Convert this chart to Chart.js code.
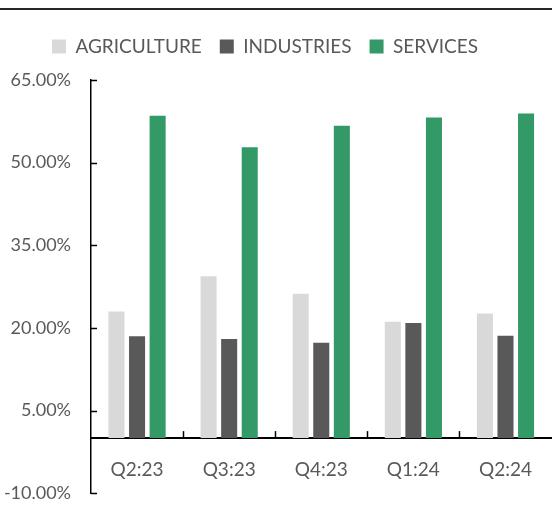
<!DOCTYPE html>
<html>
<head>
<meta charset="utf-8">
<script src="https://cdn.jsdelivr.net/npm/chart.js@4"></script>
<style>
  html, body { margin: 0; padding: 0; background: #fff; }
  #wrap { position: relative; width: 552px; height: 513px; overflow: hidden; }
  #topline { position: absolute; left: 0; top: 8px; width: 552px; height: 2px; background: #262626; }
</style>
</head>
<body>
<div id="wrap">
  <div id="topline"></div>
  <canvas id="sectorChart" width="552" height="524"></canvas>
</div>
<script>
const quarters = ["Q2:23", "Q3:23", "Q4:23", "Q1:24", "Q2:24"];
const agriculture = [23.0, 29.4, 26.2, 21.1, 22.6];
const industries = [18.5, 18.0, 17.3, 20.9, 18.6];
const services = [58.5, 52.8, 56.7, 58.2, 58.9];

const textGrey = "#595959";

// give the legend some extra room below it, and nudge it a little left
const legendSpace = {
  id: "legendSpace",
  beforeInit(chart) {
    const fit = chart.legend.fit;
    chart.legend.fit = function () {
      fit.bind(this)();
      this.height += 14;
    };
    const draw = chart.legend.draw;
    chart.legend.draw = function () {
      this.ctx.save();
      this.ctx.translate(-11, 0);
      draw.bind(this)();
      this.ctx.restore();
    };
  },
};

// Excel-style inside tick marks
const insideTicks = {
  id: "insideTicks",
  afterDraw(chart) {
    const ctx = chart.ctx;
    const x = chart.scales.x;
    const y = chart.scales.y;
    const left = chart.chartArea.left;
    ctx.save();
    ctx.strokeStyle = "#000";
    ctx.lineWidth = 1.5;
    y.ticks.forEach((t) => {
      const py = Math.round(y.getPixelForValue(t.value)) + 0.5;
      ctx.beginPath();
      ctx.moveTo(left, py);
      ctx.lineTo(left + 6, py);
      ctx.stroke();
    });
    const y0 = y.getPixelForValue(0);
    for (let i = 1; i < quarters.length; i++) {
      const px = Math.round((x.getPixelForValue(i - 1) + x.getPixelForValue(i)) / 2) + 0.5;
      ctx.beginPath();
      ctx.moveTo(px, y0);
      ctx.lineTo(px, y0 - 7);
      ctx.stroke();
    }
    ctx.restore();
  },
};

const barData = {
  labels: quarters,
  datasets: [
    { label: "AGRICULTURE", data: agriculture, backgroundColor: "#D9D9D9" },
    { label: "INDUSTRIES", data: industries, backgroundColor: "#595959" },
    { label: "SERVICES", data: services, backgroundColor: "#339966" },
  ],
};

const barConfig = {
  type: "bar",
  data: barData,
  options: {
    responsive: false,
    animation: false,
    categoryPercentage: 0.67,
    barPercentage: 0.78,
    layout: { padding: { top: 19, right: 0, bottom: 0, left: 0 } },
    plugins: {
      legend: {
        position: "top",
        labels: {
          color: textGrey,
          font: { family: "Lato", size: 19 },
          boxWidth: 14,
          boxHeight: 14,
          padding: 18,
        },
      },
      tooltip: { enabled: false },
    },
    scales: {
      x: {
        position: { y: 0 },
        grid: { display: false, drawTicks: false },
        border: { display: true, color: "#000", width: 2 },
        ticks: { color: textGrey, font: { family: "Lato", size: 19 }, padding: 20 },
      },
      y: {
        min: -10,
        max: 65,
        afterFit(scale) { scale.width = 91; },
        grid: { display: false, drawTicks: false },
        border: { display: true, color: "#000", width: 1.5 },
        ticks: {
          stepSize: 15,
          color: textGrey,
          font: { family: "Lato", size: 18 },
          padding: 20,
          callback: (v) => v.toFixed(2) + "%",
        },
      },
    },
  },
  plugins: [legendSpace, insideTicks],
};

const sectorChart = new Chart(document.getElementById("sectorChart"), barConfig);
</script>
</body>
</html>
